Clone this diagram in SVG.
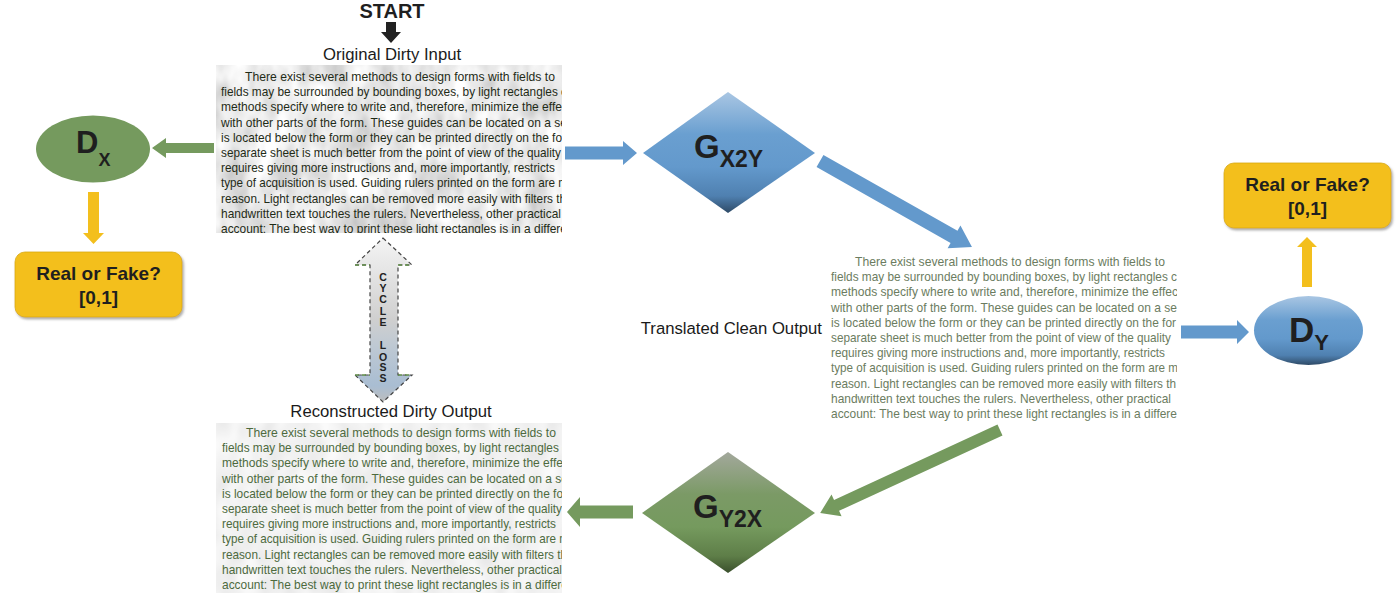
<svg xmlns="http://www.w3.org/2000/svg" width="1400" height="596" viewBox="0 0 1400 596">
<style>
.lbl{font-family:"Liberation Sans",Arial,sans-serif;font-size:16.7px;fill:#1a1a1a}
.bold{font-family:"Liberation Sans",Arial,sans-serif;font-weight:bold;fill:#1f1f1f}
.para text{font-family:"Liberation Sans",Arial,sans-serif;font-size:12.8px}
.rf{font-family:"Liberation Sans",Arial,sans-serif;font-weight:bold;font-size:19px;fill:#1f1f1f;text-anchor:middle}
.cyc{font-family:"Liberation Sans",Arial,sans-serif;font-weight:bold;font-size:10.5px;fill:#222;text-anchor:middle}
.blue{fill:#6399cc}
.green{fill:#759a5e}
.yellow{fill:#f3bf1d}
.box{fill:#f3bf1d;stroke:#d8aa14;stroke-width:0.8}
</style>
<defs>
<linearGradient id="gBlue" x1="0" y1="0" x2="0" y2="1">
<stop offset="0" stop-color="#a9c6e3"/><stop offset="0.35" stop-color="#6a9fd0"/><stop offset="0.62" stop-color="#6399cc"/><stop offset="0.86" stop-color="#4f80b0"/><stop offset="1" stop-color="#2e4a66"/>
</linearGradient>
<linearGradient id="gGreen" x1="0" y1="0" x2="0" y2="1">
<stop offset="0" stop-color="#a3a89c"/><stop offset="0.35" stop-color="#7b9a66"/><stop offset="0.62" stop-color="#759a5e"/><stop offset="0.86" stop-color="#5e7e48"/><stop offset="1" stop-color="#3a4f2c"/>
</linearGradient>
<linearGradient id="gCycle" x1="0" y1="0" x2="0" y2="1">
<stop offset="0" stop-color="#f4f4f4"/><stop offset="0.5" stop-color="#cfcfcf"/><stop offset="0.65" stop-color="#bfc9d3"/><stop offset="0.9" stop-color="#a9bdd2"/><stop offset="1" stop-color="#bdbdbd"/>
</linearGradient>
<filter id="texA" x="0" y="0" width="100%" height="100%">
<feTurbulence type="fractalNoise" baseFrequency="0.04 0.025" numOctaves="3" seed="4"/>
<feColorMatrix type="matrix" values="0.7 0 0 0 0.48  0.7 0 0 0 0.48  0.7 0 0 0 0.48  0 0 0 0 1"/>
</filter>
<filter id="texB" x="0" y="0" width="100%" height="100%">
<feTurbulence type="fractalNoise" baseFrequency="0.05 0.03" numOctaves="2" seed="9"/>
<feColorMatrix type="matrix" values="0.25 0 0 0 0.76  0.25 0 0 0 0.76  0.25 0 0 0 0.76  0 0 0 0 1"/>
</filter>
<filter id="shadow" x="-10%" y="-10%" width="125%" height="130%">
<feDropShadow dx="1.5" dy="2" stdDeviation="1.2" flood-color="#777" flood-opacity="0.6"/>
</filter>
<clipPath id="clipTop"><rect x="216" y="65" width="346" height="168"/></clipPath>
<clipPath id="clipBot"><rect x="216" y="423" width="346" height="170"/></clipPath>
<clipPath id="clipRight"><rect x="827" y="254" width="350" height="170"/></clipPath>
<g id="para" class="para">
<text x="24" y="0" textLength="310" lengthAdjust="spacingAndGlyphs">There exist several methods to design forms with fields to</text>
<text x="0" y="15.2" textLength="346" lengthAdjust="spacingAndGlyphs">fields may be surrounded by bounding boxes, by light rectangles c</text>
<text x="0" y="30.4" textLength="347" lengthAdjust="spacingAndGlyphs">methods specify where to write and, therefore, minimize the effec</text>
<text x="0" y="45.6" textLength="346" lengthAdjust="spacingAndGlyphs">with other parts of the form. These guides can be located on a se</text>
<text x="0" y="60.8" textLength="345" lengthAdjust="spacingAndGlyphs">is located below the form or they can be printed directly on the for</text>
<text x="0" y="76" textLength="340" lengthAdjust="spacingAndGlyphs">separate sheet is much better from the point of view of the quality</text>
<text x="0" y="91.2" textLength="334" lengthAdjust="spacingAndGlyphs">requires giving more instructions and, more importantly, restricts</text>
<text x="0" y="106.4" textLength="347" lengthAdjust="spacingAndGlyphs">type of acquisition is used. Guiding rulers printed on the form are m</text>
<text x="0" y="121.6" textLength="345" lengthAdjust="spacingAndGlyphs">reason. Light rectangles can be removed more easily with filters th</text>
<text x="0" y="136.8" textLength="340" lengthAdjust="spacingAndGlyphs">handwritten text touches the rulers. Nevertheless, other practical</text>
<text x="0" y="152" textLength="346" lengthAdjust="spacingAndGlyphs">account: The best way to print these light rectangles is in a differe</text>
</g>
</defs>
<rect width="1400" height="596" fill="#ffffff"/>

<g id="node-start">
<text class="bold" x="392" y="18" font-size="20" text-anchor="middle">START</text>
</g>

<g id="node-original-input">
<text class="lbl" x="392" y="60" text-anchor="middle">Original Dirty Input</text>
<rect x="216" y="65" width="346" height="168" filter="url(#texA)"/>
<g clip-path="url(#clipTop)"><use href="#para" transform="translate(221,81)" fill="#1f2b17"/></g>
</g>

<g id="node-dx">
<ellipse cx="93" cy="149" rx="57" ry="33.5" class="green"/>
<text class="bold" x="76" y="153" font-size="31">D<tspan font-size="18" dy="13">X</tspan></text>
</g>

<g id="node-real-fake-x">
<rect x="15" y="252" width="167" height="65" rx="10" class="box" filter="url(#shadow)"/>
<text class="rf" x="98.5" y="280">Real or Fake?</text>
<text class="rf" x="98.5" y="303.5">[0,1]</text>
</g>

<g id="node-gx2y">
<polygon points="643,153 728,92 815,153 728,213" fill="url(#gBlue)"/>
<text class="bold" x="694" y="158" font-size="33">G<tspan font-size="23" dy="9">X2Y</tspan></text>
</g>

<g id="node-translated-output">
<text class="lbl" x="822" y="334" text-anchor="end">Translated Clean Output</text>
<rect x="827" y="254" width="350" height="170" fill="#ffffff"/>
<g clip-path="url(#clipRight)"><use href="#para" transform="translate(831,266)" fill="#6b7c60"/></g>
</g>

<g id="node-dy">
<ellipse cx="1308.5" cy="330.5" rx="54.5" ry="34.5" fill="url(#gBlue)"/>
<text class="bold" x="1289" y="342" font-size="35">D<tspan font-size="22" dy="8">Y</tspan></text>
</g>

<g id="node-real-fake-y">
<rect x="1224" y="163" width="167" height="65" rx="10" class="box" filter="url(#shadow)"/>
<text class="rf" x="1307.5" y="191">Real or Fake?</text>
<text class="rf" x="1307.5" y="214.5">[0,1]</text>
</g>

<g id="node-gy2x">
<polygon points="642,513 728,452 815,513 728,573" fill="url(#gGreen)"/>
<text class="bold" x="693" y="518" font-size="33">G<tspan font-size="23" dy="9">Y2X</tspan></text>
</g>

<g id="node-reconstructed-output">
<text class="lbl" x="391" y="417" text-anchor="middle">Reconstructed Dirty Output</text>
<rect x="216" y="423" width="346" height="170" filter="url(#texB)"/>
<g clip-path="url(#clipBot)"><use href="#para" transform="translate(222,437)" fill="#4d6a3e"/></g>
</g>

<g id="connectors">
<polygon id="arrow-start" points="386,22 396,22 396,32 401,32 391,43 381,32 386,32" fill="#222"/>
<polygon id="arrow-input-dx" class="green" points="214,143 166,143 166,138 152,148 166,158 166,153 214,153"/>
<polygon id="arrow-dx-real" class="yellow" points="88,192 99,192 99,233 104,233 93.5,244 83,233 88,233"/>
<polygon id="arrow-input-gx2y" class="blue" points="565,146.5 623,146.5 623,141 637,153 623,165 623,159.5 565,159.5"/>
<polygon id="arrow-gx2y-translated" class="blue" points="0,-7 154,-7 154,-13 174.6,0 154,13 154,7 0,7" transform="translate(820,161) rotate(29.5)"/>
<polygon id="arrow-translated-dy" class="blue" points="1181,325.5 1237,325.5 1237,320 1249,332 1237,344 1237,338.5 1181,338.5"/>
<polygon id="arrow-dy-real" class="yellow" points="1302,287 1312,287 1312,247 1317,247 1307,237 1297,247 1302,247"/>
<polygon id="arrow-translated-gy2x" class="green" points="0,-6 180,-6 180,-12 198,0 180,12 180,6 0,6" transform="translate(1000,430) rotate(155.24)"/>
<polygon id="arrow-gy2x-reconstructed" class="green" points="633,505.5 580,505.5 580,497 567,512 580,527 580,518.5 633,518.5"/>
<g id="cycle-loss">
<polygon points="383,238 412,265 398,265 398,375 412,375 383,402 355,375 370,375 370,265 355,265" fill="url(#gCycle)" stroke="#444" stroke-width="1.2" stroke-dasharray="4,3"/>
<path d="M355,265 H370 M398,265 H412 M355,375 H370 M398,375 H412" stroke="#5d8a45" stroke-width="1.4" stroke-dasharray="4,3" fill="none"/>
<text class="cyc" x="383" y="281">C</text>
<text class="cyc" x="383" y="292">Y</text>
<text class="cyc" x="383" y="303">C</text>
<text class="cyc" x="383" y="314.5">L</text>
<text class="cyc" x="383" y="326">E</text>
<text class="cyc" x="383" y="349">L</text>
<text class="cyc" x="383" y="360.5">O</text>
<text class="cyc" x="383" y="371">S</text>
<text class="cyc" x="383" y="381.5">S</text>
</g>
</g>
</svg>
